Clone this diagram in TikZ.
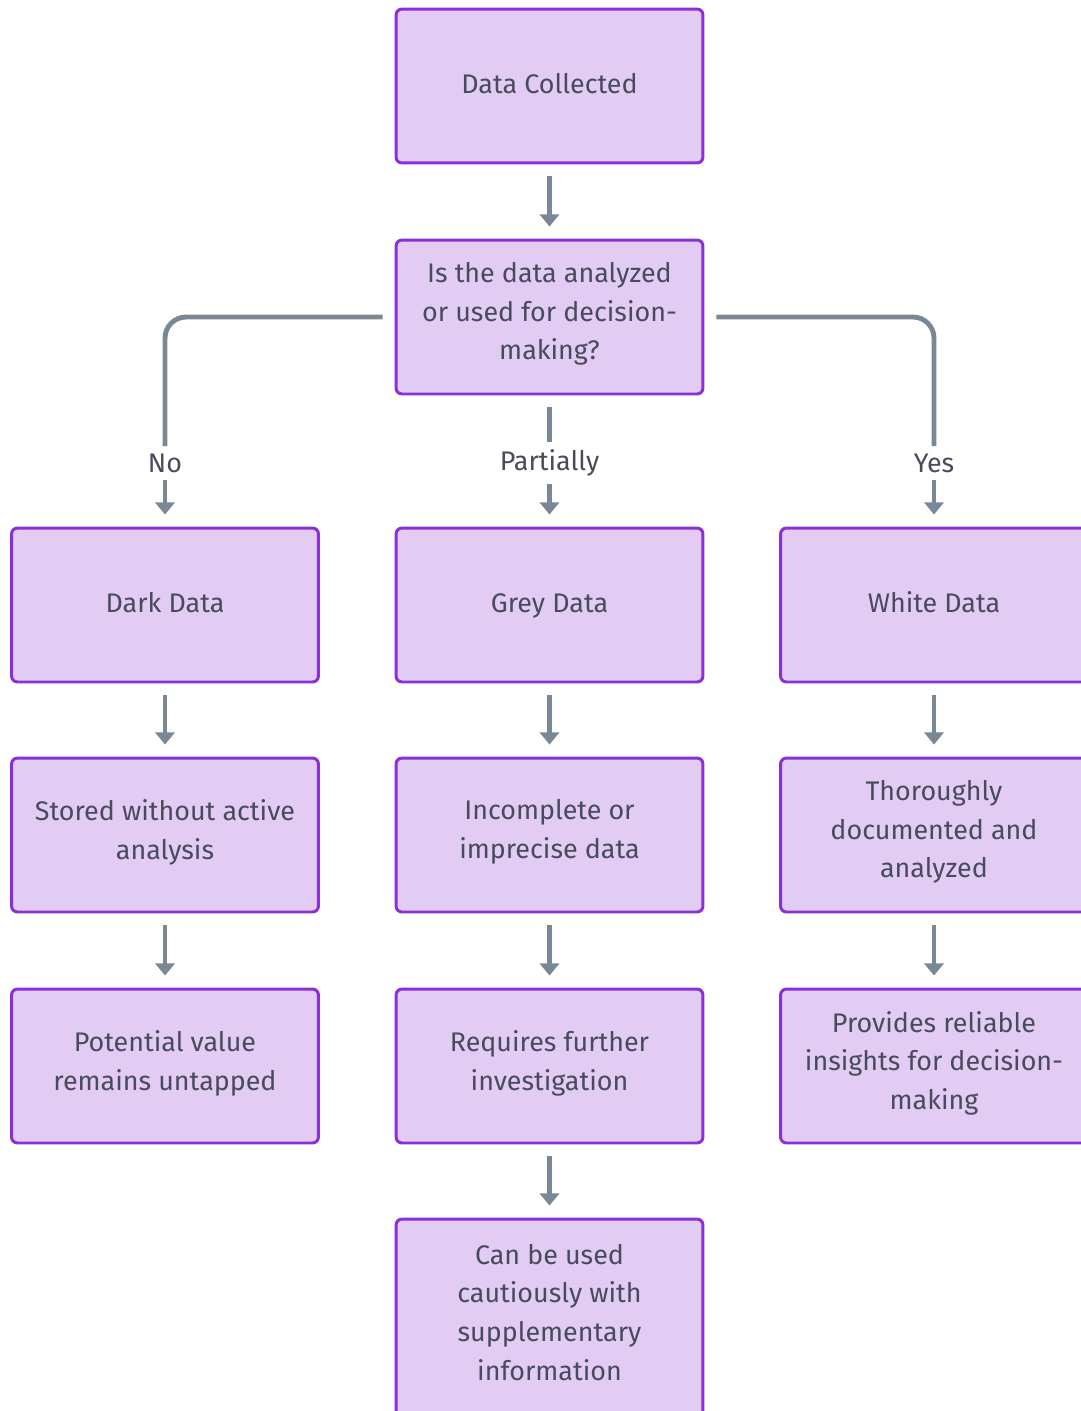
\documentclass[tikz,border=0pt]{standalone}
\usepackage{fontspec}
\setmainfont{Fira Sans}
\usetikzlibrary{arrows.meta}
\definecolor{boxfill}{HTML}{E3CCF3}
\definecolor{boxdraw}{HTML}{8B2FD6}
\definecolor{linkgrey}{HTML}{7A8896}
\definecolor{txtgrey}{HTML}{474B5C}

\begin{document}
\begin{tikzpicture}[x=0.02cm,y=-0.02cm]
        \tikzstyle{every node}=[font=\fontsize{15.3}{22}\selectfont, text=txtgrey]
        \tikzstyle{box}=[draw=boxdraw, fill=boxfill, line width=1.7pt, rounded corners=3.4pt,
            minimum width=6.14cm, minimum height=3.08cm, align=center, inner sep=2pt,
            execute at begin node=\strut, execute at end node=\strut]
        \tikzstyle{link}=[draw=linkgrey, line width=2.8pt]
        \tikzstyle{flow}=[link, -{Triangle[width=11pt,length=7pt]}, shorten <=6.8pt, shorten >=6.8pt]
        \useasboundingbox (0,0) rectangle (1081,1411);
        % top
        \node[box] (collected) at (549.5,86) {Data Collected};
        \node[box] (question) at (549.5,317) {Is the data analyzed\\or used for decision-\\making?};
        % three kinds of data
        \node[box] (dark) at (165,605) {Dark Data};
        \node[box] (grey) at (549.5,605) {Grey Data};
        \node[box] (white) at (934,605) {White Data};
        \node[box] (stored) at (165,835) {Stored without active\\analysis};
        \node[box] (incomplete) at (549.5,835) {Incomplete or\\imprecise data};
        \node[box] (documented) at (934,835) {Thoroughly\\documented and\\analyzed};
        \node[box] (untapped) at (165,1066) {Potential value\\remains untapped};
        \node[box] (further) at (549.5,1066) {Requires further\\investigation};
        \node[box] (reliable) at (934,1066) {Provides reliable\\insights for decision-\\making};
        \node[box, minimum height=3.96cm] (cautious) at (549.5,1318) {Can be used\\cautiously with\\supplementary\\information};
        % branch labels
        \node[inner sep=1pt] (no) at (165,463) {No};
        \node[inner sep=1pt] (partially) at (549.5,463) {Partially};
        \node[inner sep=1pt] (yes) at (934,463) {Yes};

        \draw[flow] (collected) -- (question);
        \draw[link, rounded corners=12pt, shorten <=6.8pt, shorten >=3pt] (question.west) -| (no.north);
        \draw[link, shorten <=6.8pt, shorten >=3pt] (question.south) -- (partially.north);
        \draw[link, rounded corners=12pt, shorten <=6.8pt, shorten >=3pt] (question.east) -| (yes.north);
        \draw[flow, shorten <=3pt] (no) -- (dark);
        \draw[flow, shorten <=3pt] (partially) -- (grey);
        \draw[flow, shorten <=3pt] (yes) -- (white);
        \draw[flow] (dark) -- (stored);
        \draw[flow] (stored) -- (untapped);
        \draw[flow] (grey) -- (incomplete);
        \draw[flow] (incomplete) -- (further);
        \draw[flow] (further) -- (cautious);
        \draw[flow] (white) -- (documented);
        \draw[flow] (documented) -- (reliable);
    \end{tikzpicture}
\end{document}
